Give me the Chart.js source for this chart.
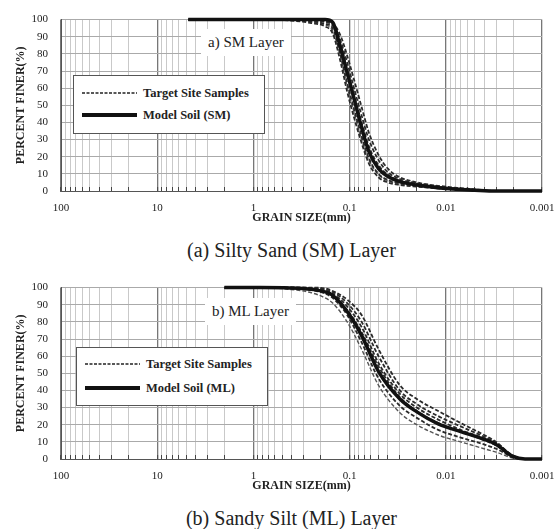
<!DOCTYPE html>
<html>
<head>
<meta charset="utf-8">
<script src="https://cdn.jsdelivr.net/npm/chart.js@4.4.1/dist/chart.umd.min.js"></script>
<style>
  body { margin: 0; background: #fff; width: 560px; height: 529px; position: relative; overflow: hidden;
         font-family: "Liberation Serif", "DejaVu Serif", serif; color: #222; }
  .box { position: absolute; left: 0; width: 560px; height: 228px; }
  .caption { position: absolute; left: 0; width: 583px; text-align: center; font-size: 20px; line-height: 24px; }
  .tag { position: absolute; background: #fff; font-size: 15px; line-height: 17px; padding: 5px 7px; }
  .legend { position: absolute; width: 190px; height: 57px; background: #fff; border: 1px solid #555;
            font-weight: bold; font-size: 12.5px; }
  .row { position: absolute; left: 8px; display: flex; align-items: center; height: 14px; }
  .row svg { margin-right: 6px; }
</style>
</head>
<body>

<div class="box" style="top:0"><canvas id="smChart"></canvas></div>
<div class="tag" style="left:201px; top:29px">a) SM Layer</div>
<div class="legend" style="left:73px; top:75px">
  <div class="row" style="top:10px">
    <svg width="55" height="6"><line x1="0" y1="3" x2="55" y2="3" stroke="#222" stroke-width="1.5" stroke-dasharray="3 1.5"/></svg>
    Target Site Samples
  </div>
  <div class="row" style="top:32px">
    <svg width="55" height="6"><line x1="0" y1="3" x2="55" y2="3" stroke="#111" stroke-width="4"/></svg>
    Model Soil (SM)
  </div>
</div>
<div class="caption" style="top:238px">(a) Silty Sand (SM) Layer</div>

<div class="box" style="top:268px"><canvas id="mlChart"></canvas></div>
<div class="tag" style="left:205px; top:298px">b) ML Layer</div>
<div class="legend" style="left:76px; top:347px">
  <div class="row" style="top:9px">
    <svg width="55" height="6"><line x1="0" y1="3" x2="55" y2="3" stroke="#222" stroke-width="1.5" stroke-dasharray="3 1.5"/></svg>
    Target Site Samples
  </div>
  <div class="row" style="top:33px">
    <svg width="55" height="6"><line x1="0" y1="3" x2="55" y2="3" stroke="#111" stroke-width="4"/></svg>
    Model Soil (ML)
  </div>
</div>
<div class="caption" style="top:506px">(b) Sandy Silt (ML) Layer</div>

<script>
// grain size axis (mm), log scale, reversed
const decades = [100, 10, 1, 0.1, 0.01, 0.001];
const decadeLabels = ['100', '10', '1', '0.1', '0.01', '0.001'];

// a) SM layer - percent finer
const sizeSM = [4.75, 2, 0.85, 0.425, 0.25, 0.18, 0.15, 0.125, 0.106, 0.09, 0.075, 0.063, 0.05, 0.04, 0.03, 0.02, 0.01, 0.005, 0.003, 0.001];
const modelSM = [100, 100, 100, 100, 100, 100, 98.5, 84, 69, 54, 37, 23, 13, 8.5, 5.5, 3.5, 1.5, 0.5, 0, 0];
const siteSM1 = [100, 100, 100, 99.5, 98, 96, 92, 76, 58, 43, 28, 16, 8, 5, 3.5, 2.5, 1.2, 0.4, 0, 0];
const siteSM2 = [100, 100, 100, 100, 99, 97.5, 95, 80, 63, 48, 32, 19, 10, 6.5, 4.5, 3, 1.5, 0.5, 0, 0];
const siteSM3 = [100, 100, 100, 100, 99.5, 98.5, 96.5, 86, 71, 56, 40, 26, 15, 9.5, 6, 4, 2, 0.7, 0, 0];
const siteSM4 = [100, 100, 100, 100, 100, 99.5, 98, 91, 79, 65, 49, 34, 21, 13, 8, 5, 2.5, 1, 0, 0];
const siteSM5 = [100, 100, 100, 99.8, 98.5, 97, 93.5, 79, 61, 46, 30, 18, 9.5, 6, 4, 3, 1.5, 0.5, 0, 0];
const siteSM6 = [100, 100, 100, 100, 99.8, 99, 97.5, 88, 75, 60, 44, 30, 18, 11, 7, 4.5, 2, 0.8, 0, 0];

// b) ML layer - percent finer
const sizeML = [2, 0.85, 0.425, 0.25, 0.18, 0.15, 0.106, 0.075, 0.05, 0.03, 0.02, 0.012, 0.007, 0.004, 0.003, 0.002, 0.0015, 0.001];
const modelML = [100, 100, 99.8, 99, 97.5, 95.5, 86, 72, 51, 35, 27.5, 20.5, 16, 11.5, 8.5, 1.5, 0, 0];
const siteML1 = [100, 100, 100, 100, 99.5, 98, 93, 84, 64, 43, 35, 28, 21, 14, 10, 1.5, 0, 0];
const siteML2 = [100, 100, 100, 99.8, 99, 97.5, 91, 80, 60, 40, 32, 25, 19, 13, 9.5, 2, 0, 0];
const siteML3 = [100, 100, 100, 99.5, 98.5, 96.5, 89, 77, 56, 38, 30, 23, 17, 12, 9, 1.5, 0, 0];
const siteML4 = [100, 100, 99.5, 98.5, 96.5, 94, 84, 68, 47, 31, 24, 17, 12.5, 8.5, 6, 1, 0, 0];
const siteML5 = [100, 100, 99, 97, 94, 91, 80, 64, 43, 27, 20, 14, 10, 6, 4, 0.5, 0, 0];
const siteML6 = [100, 100, 99.8, 99, 97, 95, 87, 74, 54, 36, 28, 21, 16, 11, 8, 1.5, 0, 0];

const serif = 'Liberation Serif';

function isDecade(v) {
  const l = Math.log10(v);
  return Math.abs(l - Math.round(l)) < 1e-6;
}

function pts(sizes, vals) {
  return sizes.map((s, i) => ({ x: s, y: vals[i] }));
}

function makeChart(id, sizes, model, sites) {
  const datasets = [{
    data: pts(sizes, model),
    borderColor: '#111',
    borderWidth: 3.5
  }];
  sites.forEach((s, i) => {
    datasets.push({
      data: pts(sizes, s),
      borderColor: i === 4 ? '#555' : '#2a2a2a',
      borderWidth: i === 4 ? 1.4 : 1.8,
      borderDash: [4, 2]
    });
  });
  datasets.forEach(d => {
    d.showLine = true;
    d.pointRadius = 0;
    d.cubicInterpolationMode = 'monotone';
    d.clip = 4;
  });

  return new Chart(document.getElementById(id), {
    type: 'scatter',
    data: { datasets },
    options: {
      responsive: true,
      maintainAspectRatio: false,
      animation: false,
      layout: { padding: { left: 0, right: 18, top: 19, bottom: 0 } },
      plugins: { legend: { display: false }, tooltip: { enabled: false } },
      scales: {
        x: {
          type: 'logarithmic',
          reverse: true,
          min: 0.001,
          max: 100,
          afterBuildTicks: scale => {
            const t = [];
            decades.forEach(d => {
              for (let k = 1; k <= 9; k++) {
                const v = d * k;
                if (v <= 100.0001) t.push({ value: v });
              }
            });
            scale.ticks = t;
          },
          afterFit: scale => { scale.height = 37; },
          ticks: {
            autoSkip: false,
            maxRotation: 0,
            padding: 15,
            color: '#222',
            font: { family: serif, size: 11 },
            callback: value => {
              const idx = decades.findIndex(d => Math.abs(d - value) / d < 1e-6);
              return idx >= 0 ? decadeLabels[idx] : '';
            }
          },
          grid: {
            drawTicks: true,
            tickLength: -4,
            tickColor: '#444',
            tickWidth: 1,
            color: ctx => isDecade(ctx.tick.value) ? '#777' : '#bbb',
            lineWidth: ctx => isDecade(ctx.tick.value) ? 1.3 : 0.8
          },
          border: { display: true, color: '#555', width: 1 },
          title: {
            display: true,
            text: 'GRAIN SIZE(mm)',
            color: '#222',
            font: { family: serif, size: 12, weight: 'bold' },
            padding: { top: 0, bottom: 3 }
          }
        },
        y: {
          min: 0,
          max: 100,
          afterFit: scale => { scale.width = 61; },
          ticks: {
            stepSize: 10,
            padding: 13,
            color: '#222',
            font: { family: serif, size: 11 }
          },
          grid: { drawTicks: false, color: '#aaa', lineWidth: 1 },
          border: { display: true, color: '#555', width: 1 },
          title: {
            display: true,
            text: 'PERCENT FINER(%)',
            color: '#222',
            font: { family: serif, size: 12, weight: 'bold' },
            padding: { top: 14, bottom: 0 }
          }
        }
      }
    }
  });
}

makeChart('smChart', sizeSM, modelSM, [siteSM1, siteSM2, siteSM3, siteSM4, siteSM5, siteSM6]);
makeChart('mlChart', sizeML, modelML, [siteML1, siteML2, siteML3, siteML4, siteML5, siteML6]);
</script>
</body>
</html>
